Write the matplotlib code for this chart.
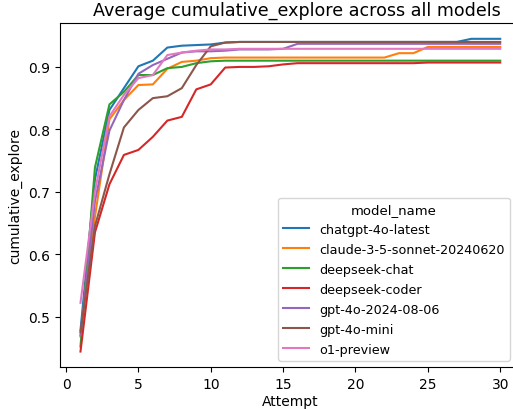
import matplotlib
matplotlib.use("Agg")
import matplotlib.pyplot as plt

attempts = list(range(1, 31))

chatgpt_4o_latest = [0.478, 0.720, 0.831, 0.866, 0.901, 0.910, 0.931, 0.934, 0.935, 0.936,
                     0.939, 0.940, 0.940, 0.940, 0.940, 0.940, 0.940, 0.940, 0.940, 0.940,
                     0.940, 0.940, 0.940, 0.940, 0.940, 0.940, 0.940, 0.945, 0.945, 0.945]
claude_3_5_sonnet = [0.468, 0.660, 0.816, 0.847, 0.871, 0.872, 0.897, 0.908, 0.910, 0.914,
                     0.915, 0.915, 0.915, 0.915, 0.915, 0.915, 0.915, 0.915, 0.915, 0.915,
                     0.915, 0.915, 0.922, 0.922, 0.932, 0.932, 0.932, 0.932, 0.932, 0.932]
deepseek_chat = [0.452, 0.739, 0.840, 0.860, 0.887, 0.887, 0.898, 0.900, 0.906, 0.909,
                 0.910, 0.910, 0.910, 0.910, 0.910, 0.910, 0.910, 0.910, 0.910, 0.910,
                 0.910, 0.910, 0.910, 0.910, 0.910, 0.910, 0.910, 0.910, 0.910, 0.910]
deepseek_coder = [0.444, 0.635, 0.712, 0.759, 0.767, 0.788, 0.814, 0.820, 0.864, 0.872,
                  0.899, 0.900, 0.900, 0.901, 0.904, 0.906, 0.906, 0.906, 0.906, 0.906,
                  0.906, 0.906, 0.906, 0.906, 0.907, 0.907, 0.907, 0.907, 0.907, 0.907]
gpt_4o_2024_08_06 = [0.470, 0.685, 0.798, 0.847, 0.889, 0.903, 0.913, 0.923, 0.925, 0.925,
                     0.926, 0.928, 0.928, 0.928, 0.929, 0.937, 0.937, 0.937, 0.937, 0.937,
                     0.937, 0.937, 0.937, 0.937, 0.937, 0.937, 0.937, 0.937, 0.937, 0.937]
gpt_4o_mini = [0.475, 0.645, 0.728, 0.803, 0.831, 0.850, 0.853, 0.866, 0.903, 0.933,
               0.939, 0.940, 0.940, 0.940, 0.940, 0.940, 0.940, 0.940, 0.940, 0.940,
               0.940, 0.940, 0.940, 0.940, 0.940, 0.940, 0.940, 0.940, 0.940, 0.940]
o1_preview = [0.522, 0.700, 0.821, 0.855, 0.882, 0.887, 0.919, 0.923, 0.926, 0.928,
              0.928, 0.929, 0.929, 0.929, 0.929, 0.929, 0.929, 0.929, 0.929, 0.929,
              0.929, 0.929, 0.929, 0.929, 0.929, 0.929, 0.929, 0.929, 0.929, 0.929]

model_names = ["chatgpt-4o-latest", "claude-3-5-sonnet-20240620", "deepseek-chat",
               "deepseek-coder", "gpt-4o-2024-08-06", "gpt-4o-mini", "o1-preview"]
series = [chatgpt_4o_latest, claude_3_5_sonnet, deepseek_chat, deepseek_coder,
          gpt_4o_2024_08_06, gpt_4o_mini, o1_preview]

fig, ax = plt.subplots(figsize=(5.13, 4.1), dpi=100)
# the original image is cut off on the right, so the axes run a bit past the edge
fig.subplots_adjust(left=0.116, right=1.016, bottom=0.102, top=0.941)

for name, values in zip(model_names, series):
    ax.plot(attempts, values, label=name, linewidth=1.5)

ax.set_title("Average cumulative_explore across all models", fontsize=12.6, x=0.514)
ax.set_xlabel("Attempt", labelpad=2)
ax.set_ylabel("cumulative_explore")
ax.legend(title="model_name", loc="lower left", bbox_to_anchor=(0.4734, 0.018),
          borderaxespad=0, fontsize=9.2, title_fontsize=9.5, labelspacing=0.55)

fig.savefig("out.png", dpi=100)
